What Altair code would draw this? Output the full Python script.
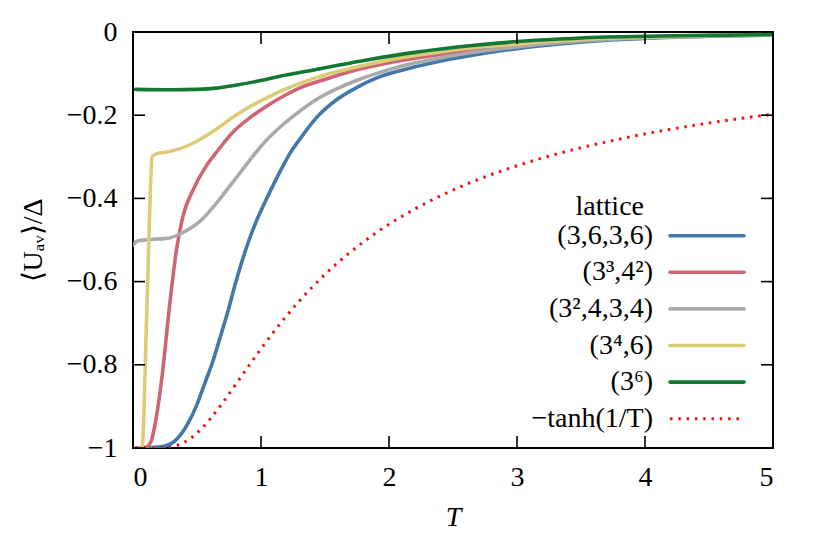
import altair as alt
import pandas as pd

# ---------------- data ----------------
blue_T = [0.0, 0.15, 0.25, 0.32, 0.38, 0.44, 0.5, 0.56, 0.62, 0.68, 0.75, 0.806, 0.86, 0.91, 0.97, 1.04,
          1.1, 1.17, 1.23, 1.3, 1.43, 1.59, 1.75, 1.9, 2.1, 2.37, 2.63, 3.0, 3.33, 3.7, 4.11, 4.5, 5.0]
blue_U = [-1.0, -0.999, -0.995, -0.985, -0.965, -0.935, -0.895, -0.845, -0.795, -0.735, -0.662, -0.598,
          -0.543, -0.497, -0.45, -0.403, -0.365, -0.323, -0.29, -0.259, -0.207, -0.163, -0.133, -0.111,
          -0.092, -0.072, -0.057, -0.040, -0.029, -0.020, -0.014, -0.010, -0.007]

pink_T = [0.0, 0.1, 0.14, 0.18, 0.23, 0.285, 0.34, 0.39, 0.47, 0.57, 0.65, 0.7, 0.78, 0.91, 1.04, 1.17,
          1.3, 1.51, 1.75, 2.0, 2.37, 2.63, 3.0, 3.33, 3.7, 4.11, 4.5, 5.0]
pink_U = [-1.0, -0.998, -0.985, -0.93, -0.82, -0.66, -0.523, -0.443, -0.379, -0.323, -0.29, -0.27, -0.241,
          -0.207, -0.179, -0.155, -0.135, -0.113, -0.091, -0.074, -0.055, -0.045, -0.033, -0.024, -0.017,
          -0.012, -0.009, -0.007]

gray_T = [0.0, 0.04, 0.13, 0.285, 0.39, 0.52, 0.65, 0.78, 0.91, 1.04, 1.17, 1.3, 1.43, 1.59, 1.75, 1.9,
          2.1, 2.37, 2.63, 3.0, 3.33, 3.7, 4.11, 4.5, 5.0]
gray_U = [-0.512, -0.502, -0.499, -0.495, -0.482, -0.456, -0.412, -0.361, -0.309, -0.261, -0.223, -0.191,
          -0.163, -0.137, -0.116, -0.1, -0.082, -0.064, -0.050, -0.036, -0.026, -0.018, -0.013, -0.010, -0.007]

yellow_T = [0.0, 0.07, 0.11, 0.15, 0.18, 0.285, 0.39, 0.52, 0.65, 0.78, 0.91, 1.04, 1.17, 1.38, 1.6, 1.85,
            2.11, 2.37, 2.63, 3.0, 3.33, 3.7, 4.11, 4.5, 5.0]
yellow_U = [-1.0, -1.0, -0.65, -0.30, -0.293, -0.287, -0.278, -0.259, -0.234, -0.205, -0.18, -0.159, -0.14,
            -0.115, -0.095, -0.077, -0.061, -0.049, -0.039, -0.029, -0.021, -0.015, -0.011, -0.008, -0.006]

green_T = [0.02, 0.3, 0.5, 0.65, 0.8, 1.01, 1.14, 1.4, 1.6, 1.85, 2.2, 2.63, 3.0, 3.33, 3.7, 4.11, 4.5, 5.0]
green_U = [-0.138, -0.139, -0.138, -0.135, -0.128, -0.116, -0.107, -0.092, -0.08, -0.066, -0.049, -0.033,
           -0.023, -0.017, -0.012, -0.0096, -0.008, -0.006]

red_T = [0.02, 0.1, 0.15, 0.2, 0.25, 0.3, 0.35, 0.4, 0.45, 0.5, 0.6, 0.7, 0.8, 0.9, 1.0, 1.1, 1.2, 1.3,
         1.4, 1.5, 1.6, 1.8, 2.0, 2.2, 2.4, 2.6, 2.8, 3.0, 3.25, 3.5, 3.75, 4.0, 4.25, 4.5, 4.75, 5.0]
red_U = [-1.0, -1.0, -1.0, -0.9999, -0.9993, -0.9975, -0.9933, -0.9866, -0.9769, -0.964, -0.9311, -0.8914,
         -0.8483, -0.8045, -0.7616, -0.7206, -0.6822, -0.6464, -0.6134, -0.5828, -0.5546, -0.5047, -0.4621,
         -0.4257, -0.3941, -0.3666, -0.3426, -0.3215, -0.2983, -0.2782, -0.2607, -0.2449, -0.2311, -0.2187,
         -0.2077, -0.1974]

labels = ["(3,6,3,6)", "(3³,4²)", "(3²,4,3,4)", "(3⁴,6)", "(3⁶)", "−tanh(1/T)"]
colors = ["#4477AA", "#CC6677", "#AAAAAA", "#DDCC77", "#117733", "#EE1111"]

x_ticks = [0, 1, 2, 3, 4, 5]
y_ticks = [0, -0.2, -0.4, -0.6, -0.8, -1.0]

# ---------------- layout ----------------
W, H = 640, 416
FONT = "Liberation Serif"
FS = 28

x_enc = alt.X("T:Q", scale=alt.Scale(domain=[0, 5], nice=False, zero=False),
              axis=alt.Axis(values=x_ticks, format="d", title="T", titleFontStyle="italic",
                            labelPadding=15, titlePadding=12))
y_enc = alt.Y("U:Q", scale=alt.Scale(domain=[-1, 0], nice=False, zero=False),
              axis=alt.Axis(values=y_ticks, format="~g", title="⟨Uₐᵥ⟩/Δ",
                            labelPadding=16, titleX=-86, titleY=H / 2))

series = [
    (blue_T, blue_U, colors[0]),
    (pink_T, pink_U, colors[1]),
    (gray_T, gray_U, colors[2]),
    (yellow_T, yellow_U, colors[3]),
    (green_T, green_U, colors[4]),
]

layers = []
for Ts, Us, c in series:
    df = pd.DataFrame({"T": Ts, "U": Us})
    layers.append(alt.Chart(df).mark_line(color=c, strokeWidth=3.6, clip=True, interpolate="monotone",
                                          strokeJoin="round", strokeCap="round")
                  .encode(x=x_enc, y=y_enc))

red_df = pd.DataFrame({"T": red_T, "U": red_U})
layers.append(alt.Chart(red_df).mark_line(color=colors[5], strokeWidth=3, strokeDash=[2.5, 5.8],
                                          interpolate="monotone", strokeCap="butt", clip=True)
              .encode(x=x_enc, y=y_enc))

# inward ticks on all four sides
xt = pd.DataFrame({"T": x_ticks})
yt = pd.DataFrame({"U": y_ticks})
TL = 12
layers.append(alt.Chart(xt).mark_rule(color="black", strokeWidth=1.6)
              .encode(x=x_enc, y=alt.value(H), y2=alt.value(H - TL)))
layers.append(alt.Chart(xt).mark_rule(color="black", strokeWidth=1.6)
              .encode(x=x_enc, y=alt.value(0), y2=alt.value(TL)))
layers.append(alt.Chart(yt).mark_rule(color="black", strokeWidth=1.6)
              .encode(y=y_enc, x=alt.value(0), x2=alt.value(TL)))
layers.append(alt.Chart(yt).mark_rule(color="black", strokeWidth=1.6)
              .encode(y=y_enc, x=alt.value(W - TL), x2=alt.value(W)))

# manual legend (labels left of the line samples)
row0, dy = 203.7, 36.6
layers.append(alt.Chart(pd.DataFrame({"t": ["lattice"]}))
              .mark_text(align="right", baseline="middle", font=FONT, fontSize=FS, color="black")
              .encode(text="t:N", x=alt.value(511), y=alt.value(175)))
for i, (lab, c) in enumerate(zip(labels, colors)):
    ypix = row0 + dy * i
    layers.append(alt.Chart(pd.DataFrame({"t": [lab]}))
                  .mark_text(align="right", baseline="middle", font=FONT, fontSize=FS, color="black")
                  .encode(text="t:N", x=alt.value(520), y=alt.value(ypix)))
    if i < 5:
        seg = alt.Chart(pd.DataFrame({"t": [lab]})).mark_rule(color=c, strokeWidth=3.6, strokeCap="round")
    else:
        seg = alt.Chart(pd.DataFrame({"t": [lab]})).mark_rule(color=c, strokeWidth=3,
                                                               strokeDash=[2.5, 5.8])
    layers.append(seg.encode(x=alt.value(537), x2=alt.value(611), y=alt.value(ypix)))

chart = (
    alt.layer(*layers)
    .properties(width=W, height=H,
                autosize=alt.AutoSizeParams(type="none"),
                padding={"left": 125, "top": 24, "right": 41, "bottom": 92})
    .configure(background="white")
    .configure_view(stroke="black", strokeWidth=2)
    .configure_axis(domain=False, ticks=False, grid=False,
                    labelFont=FONT, labelFontSize=FS, labelColor="black",
                    titleFont=FONT, titleFontSize=FS, titleColor="black", titleFontWeight="normal")
)

chart.save("out.html", embed_options={"renderer": "svg", "actions": False})
